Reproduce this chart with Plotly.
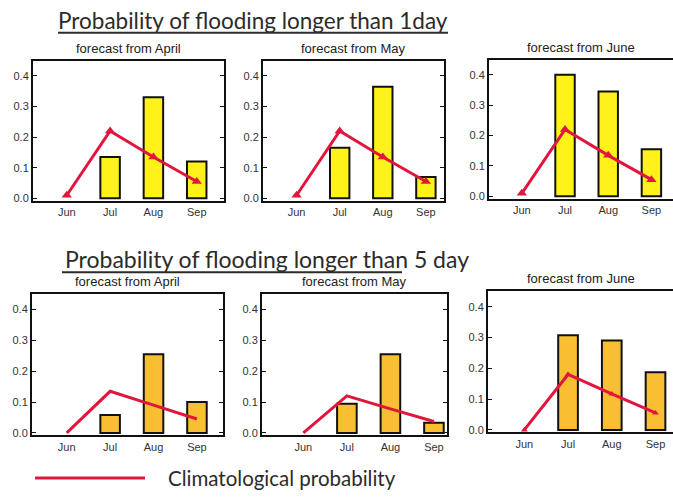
import plotly.graph_objects as go

months = ['Jun', 'Jul', 'Aug', 'Sep']
forecast_from = ['April', 'May', 'June']

# probability of flooding longer than 1 day
prob_1day_april = [None, 0.135, 0.33, 0.12]
prob_1day_may = [None, 0.165, 0.365, 0.07]
prob_1day_june = [None, 0.40, 0.345, 0.155]
clim_1day = [0.01, 0.22, 0.135, 0.055]

# probability of flooding longer than 5 day
prob_5day_april = [None, 0.058, 0.255, 0.10]
prob_5day_may = [None, 0.095, 0.255, 0.033]
prob_5day_june = [None, 0.307, 0.29, 0.187]
clim_5day_april = [0.0, 0.135, 0.09, 0.045]
clim_5day_may = [0.0, 0.12, 0.078, 0.037]
clim_5day_june = [0.0, 0.18, 0.117, 0.055]

W, H = 673, 501
RED = '#E2163D'
YELLOW = '#FFF21A'
ORANGE = '#F9BF33'
TICK_FONT = dict(family='Liberation Sans, Arial', size=11, color='#333333')
TITLE_FONT = dict(family='Lato', size=22.5, color='#2b2b2b')


def fx(p):
    return p / W


def fy(p):
    return 1 - p / H


# panel boxes in pixels: left, right, top, bottom, x range
panels = [
    dict(box=(33, 224, 61, 202), xr=[-0.78, 3.63], bars=prob_1day_april, clim=clim_1day,
         color=YELLOW, marker=True, mirror=True),
    dict(box=(263, 444, 61, 202), xr=[-0.78, 3.42], bars=prob_1day_may, clim=clim_1day,
         color=YELLOW, marker=True, mirror=True),
    dict(box=(489, 673, 60, 200), xr=[-0.76, 3.5], bars=prob_1day_june, clim=clim_1day,
         color=YELLOW, marker=True, mirror=False),
    dict(box=(32, 223, 296, 438), xr=[-0.8, 3.6], bars=prob_5day_april, clim=clim_5day_april,
         color=ORANGE, marker=False, mirror=True),
    dict(box=(262, 447, 296, 438), xr=[-0.95, 3.3], bars=prob_5day_may, clim=clim_5day_may,
         color=ORANGE, marker=False, mirror=True),
    dict(box=(488, 673, 293, 435), xr=[-0.83, 3.4], bars=prob_5day_june, clim=clim_5day_june,
         color=ORANGE, marker=None, mirror=False),
]

fig = go.Figure()
annotations = []
layout = {}

for i, p in enumerate(panels):
    n = '' if i == 0 else str(i + 1)
    left, right, top, bottom = p['box']
    fig.add_trace(go.Bar(
        x=months, y=p['bars'], width=0.45,
        marker=dict(color=p['color'], line=dict(color='#111111', width=2)),
        xaxis='x' + n, yaxis='y' + n, showlegend=False,
    ))
    if p['marker'] is True:
        mk = dict(symbol='triangle-up', size=9, color=RED)
        mode = 'lines+markers'
    elif p['marker'] is None:
        mk = dict(symbol='triangle-up', size=6, color=RED)
        mode = 'lines+markers'
    else:
        mk = None
        mode = 'lines'
    fig.add_trace(go.Scatter(
        x=months, y=p['clim'], mode=mode, marker=mk,
        line=dict(color=RED, width=3),
        xaxis='x' + n, yaxis='y' + n, showlegend=False,
    ))
    layout['xaxis' + n] = dict(
        domain=[fx(left), fx(right)], anchor='y' + n, range=p['xr'],
        showline=True, linecolor='#111111', linewidth=2, mirror=True,
        ticks='', showgrid=False, zeroline=False, tickfont=TICK_FONT,
        fixedrange=True,
    )
    layout['yaxis' + n] = dict(
        domain=[fy(bottom), fy(top)], anchor='x' + n, range=[-0.008, 0.45],
        dtick=0.1, tickformat='.1f', ticks='inside', ticklen=4, tickcolor='#111111',
        showline=True, linecolor='#111111', linewidth=2,
        mirror='ticks' if p['mirror'] else False,
        showgrid=False, zeroline=False, tickfont=TICK_FONT, fixedrange=True,
    )
    annotations.append(dict(
        text='forecast from ' + forecast_from[i % 3],
        x=fx((left + right) / 2), y=fy(top - 3), xref='paper', yref='paper',
        xanchor='center', yanchor='bottom', showarrow=False,
        font=dict(family='Liberation Sans, Arial', size=13, color='#222222'),
    ))

annotations += [
    dict(text='Probability of flooding longer than 1day', x=fx(253), y=fy(21),
         xref='paper', yref='paper', xanchor='center', yanchor='middle',
         showarrow=False, font=TITLE_FONT),
    dict(text='Probability of flooding longer than 5 day', x=fx(267), y=fy(261),
         xref='paper', yref='paper', xanchor='center', yanchor='middle',
         showarrow=False, font=dict(family='Lato', size=23, color='#2b2b2b')),
    dict(text='Climatological probability', x=fx(166), y=fy(481),
         xref='paper', yref='paper', xanchor='left', yanchor='middle',
         showarrow=False, font=dict(family='Lato', size=20.5, color='#2b2b2b')),
]

shapes = [
    dict(type='line', xref='paper', yref='paper', x0=fx(58), x1=fx(448), y0=fy(33), y1=fy(33),
         line=dict(color='#2b2b2b', width=2)),
    dict(type='line', xref='paper', yref='paper', x0=fx(62), x1=fx(402), y0=fy(274), y1=fy(274),
         line=dict(color='#2b2b2b', width=2)),
    dict(type='line', xref='paper', yref='paper', x0=fx(35), x1=fx(145), y0=fy(481), y1=fy(481),
         line=dict(color=RED, width=3)),
]

fig.update_layout(**layout)
fig.update_layout(
    width=W, height=H,
    margin=dict(t=0, l=0, r=0, b=0),
    paper_bgcolor='white', plot_bgcolor='white',
    annotations=annotations, shapes=shapes,
    bargap=0.5,
)
fig.write_html('out.html', config={'displayModeBar': False},
               post_script="document.body.style.margin='0px';")
